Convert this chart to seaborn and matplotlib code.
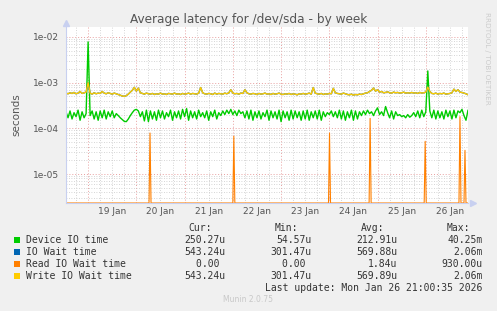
import numpy as np
import pandas as pd
import seaborn as sns
import matplotlib
matplotlib.use("Agg")
import matplotlib.pyplot as plt
from matplotlib.patches import Rectangle
from matplotlib.ticker import MultipleLocator, LogLocator, FuncFormatter, NullFormatter
import matplotlib.transforms as mtransforms

# ---------------------------------------------------------------------------
# data (hours relative to 19 Jan 00:00, values in microseconds)
# ---------------------------------------------------------------------------
hours = list(range(-11, 190))

device_io = [
    230, 170, 240, 160, 220, 180, 250, 150, 230, 170,
    210, 7800, 190, 240, 160, 230, 150, 240, 170, 250,
    160, 230, 180, 240, 170, 210, 190, 170, 155, 142,
    140, 160, 190, 220, 250, 260, 240, 180, 230, 145,
    250, 140, 240, 160, 230, 150, 250, 170, 240, 160,
    220, 180, 250, 150, 230, 170, 240, 160, 260, 180,
    270, 150, 240, 170, 230, 160, 250, 180, 220, 170,
    240, 150, 230, 180, 250, 160, 220, 190, 240, 200,
    250, 210, 260, 200, 240, 190, 250, 210, 230, 170,
    240, 160, 250, 150, 230, 170, 240, 160, 220, 180,
    250, 150, 240, 170, 230, 160, 250, 140, 240, 170,
    230, 150, 250, 160, 240, 170, 230, 150, 240, 160,
    250, 150, 230, 170, 240, 160, 250, 150, 230, 180,
    220, 200, 240, 180, 230, 170, 250, 160, 240, 150,
    230, 170, 250, 150, 240, 160, 230, 190, 240, 200,
    250, 210, 230, 190, 240, 280, 200, 230, 190, 300,
    220, 170, 240, 160, 230, 190, 200, 180, 190, 170,
    200, 175, 190, 220, 180, 240, 170, 250, 180, 230,
    1800, 240, 170, 250, 160, 240, 170, 230, 160, 250,
    180, 240, 160, 250, 170, 240, 220, 260, 190, 150,
    250,
]

write_wait = [
    590, 570, 600, 580, 610, 570, 590, 640, 580, 600,
    620, 1000, 590, 560, 600, 570, 590, 580, 640, 590,
    570, 600, 580, 560, 590, 570, 550, 530, 510, 500,
    520, 560, 620, 680, 790, 650, 760, 600, 580, 560,
    590, 570, 560, 580, 550, 570, 560, 590, 560, 570,
    550, 580, 570, 560, 590, 560, 570, 550, 580, 560,
    570, 590, 560, 580, 570, 560, 590, 780, 600, 570,
    560, 580, 570, 550, 590, 560, 580, 570, 560, 590,
    570, 600, 700, 590, 570, 580, 560, 590, 580, 700,
    600, 570, 560, 580, 570, 550, 580, 560, 570, 590,
    560, 570, 550, 580, 560, 570, 590, 560, 550, 570,
    560, 580, 550, 570, 560, 540, 570, 560, 580, 560,
    570, 590, 560, 780, 590, 570, 560, 580, 550, 570,
    560, 580, 570, 750, 600, 580, 570, 560, 590, 570,
    550, 540, 560, 530, 550, 540, 560, 550, 570, 590,
    600, 640, 680, 760, 650, 700, 620, 640, 600, 610,
    630, 600, 590, 620, 600, 610, 590, 600, 620, 590,
    600, 590, 610, 590, 600, 580, 610, 590, 600, 620,
    800, 640, 580, 570, 590, 560, 580, 570, 590, 560,
    570, 580, 600, 720, 640, 700, 620, 610, 590, 570,
    543,
]

# IO wait is the same as write wait (no reads to speak of)
io_wait = write_wait

read_times = [-11, 30.3, 30.8, 31.3, 72.0, 72.5, 73.0, 119.6, 120.1, 120.6,
              139.8, 140.3, 140.8, 167.2, 167.7, 168.2, 184.5, 185.0, 185.5,
              187.0, 187.5, 188.0, 189]
read_wait = [0, 0, 79, 0, 0, 67, 0, 0, 79, 0,
             0, 165, 0, 0, 52, 0, 0, 180, 0,
             0, 33, 0, 0]

day_labels = ["19 Jan", "20 Jan", "21 Jan", "22 Jan",
              "23 Jan", "24 Jan", "25 Jan", "26 Jan"]

series_names = ["Device IO time", "IO Wait time", "Read IO Wait time", "Write IO Wait time"]
series_colors = ["#00CC00", "#0066B3", "#FF8000", "#FFCC00"]
cur_vals = ["250.27u", "543.24u", "0.00 ", "543.24u"]
min_vals = ["54.57u", "301.47u", "0.00 ", "301.47u"]
avg_vals = ["212.91u", "569.88u", "1.84u", "569.89u"]
max_vals = ["40.25m", "2.06m", "930.00u", "2.06m"]

# ---------------------------------------------------------------------------
# figure
# ---------------------------------------------------------------------------
sns.set_theme(style="white")
plt.rcParams["font.family"] = ["DejaVu Sans"]

W, H = 497, 311
fig = plt.figure(figsize=(W / 100, H / 100), dpi=100, facecolor="#F0F0F0")
ax = fig.add_axes([66 / W, 1 - 203 / H, (468 - 66) / W, (203 - 27) / H])
ax.set_facecolor("white")

ymin, ymax = 2.32e-6, 1.65e-2

df_main = pd.DataFrame({"hour": hours,
                        "device": np.array(device_io) * 1e-6,
                        "iowait": np.array(io_wait) * 1e-6,
                        "write": np.array(write_wait) * 1e-6})
df_read = pd.DataFrame({"hour": read_times,
                        "read": np.maximum(np.array(read_wait) * 1e-6, ymin)})

lw = 1.0
sns.lineplot(data=df_main, x="hour", y="device", color=series_colors[0], lw=lw,
             ax=ax, estimator=None, sort=False)
sns.lineplot(data=df_main, x="hour", y="iowait", color=series_colors[1], lw=lw,
             ax=ax, estimator=None, sort=False)
sns.lineplot(data=df_read, x="hour", y="read", color=series_colors[2], lw=0.8,
             ax=ax, estimator=None, sort=False)
sns.lineplot(data=df_main, x="hour", y="write", color=series_colors[3], lw=lw,
             ax=ax, estimator=None, sort=False)

ax.set_yscale("log")
ax.set_ylim(ymin, ymax)
ax.set_xlim(-11, 189)

# grid
ax.xaxis.set_major_locator(MultipleLocator(24))
ax.xaxis.set_minor_locator(MultipleLocator(6))
ax.yaxis.set_major_locator(LogLocator(base=10, numticks=10))
ax.yaxis.set_minor_locator(LogLocator(base=10, subs=np.arange(2, 10), numticks=20))
ax.xaxis.set_major_formatter(NullFormatter())
ax.xaxis.set_minor_formatter(NullFormatter())
ax.yaxis.set_minor_formatter(NullFormatter())
ax.yaxis.set_major_formatter(FuncFormatter(lambda v, p: f"{v:.0e}"))

ax.grid(which="major", color="#E8A0A0", linestyle=(0, (1, 2)), lw=0.7)
ax.grid(which="minor", color="#C8C8C8", linestyle=(0, (1, 2)), lw=0.6)
ax.set_axisbelow(True)

ax.tick_params(axis="y", which="major", length=0, labelsize=6.5, labelcolor="#555555", pad=5)
ax.tick_params(axis="y", which="minor", length=0)
ax.tick_params(axis="x", which="major", length=2, color="#E08080", direction="out")
ax.tick_params(axis="x", which="minor", length=0)

for s in ["top", "right"]:
    ax.spines[s].set_visible(False)
for s in ["left", "bottom"]:
    ax.spines[s].set_color("#C8D0F0")
    ax.spines[s].set_linewidth(0.8)

# axis arrows
ax.plot([0], [1.02], marker="^", ms=4, color="#C8D0F0", transform=ax.transAxes, clip_on=False)
ax.plot([1.012], [0], marker=">", ms=4, color="#C8D0F0", transform=ax.transAxes, clip_on=False)

ax.set_xlabel("")
ax.set_ylabel("seconds", fontsize=7.5, color="#555555", labelpad=8)

# day labels centered at noon
trans = mtransforms.blended_transform_factory(ax.transData, ax.transAxes)
for i, lab in enumerate(day_labels):
    ax.text(12 + 24 * i, -0.05, lab, transform=trans, ha="center", va="center",
            fontsize=6.5, color="#555555")

fig.text(248.5 / W, 1 - 19 / H, "Average latency for /dev/sda - by week",
         ha="center", va="center", fontsize=8.7, color="#555555")
fig.text(487 / W, 1 - 58 / H, "RRDTOOL / TOBI OETIKER", rotation=270,
         ha="center", va="center", fontsize=5.2, color="#CCCCCC")

# legend block
mono = "DejaVu Sans Mono"
fs = 7
for hx, hdr in zip([212, 298, 384, 470], ["Cur:", "Min:", "Avg:", "Max:"]):
    fig.text(hx / W, 1 - 227.7 / H, hdr, ha="right", va="center",
             family=mono, fontsize=fs, color="#333333")

for i in range(4):
    y = 240 + 12 * i
    fig.add_artist(Rectangle((14 / W, 1 - (y + 3) / H), 6 / W, 6 / H,
                             transform=fig.transFigure, color=series_colors[i], lw=0))
    fig.text(26.3 / W, 1 - y / H, series_names[i], ha="left", va="center",
             family=mono, fontsize=fs, color="#333333")
    for cx, vals in zip([225, 311.7, 397.3, 482.7], [cur_vals, min_vals, avg_vals, max_vals]):
        fig.text(cx / W, 1 - y / H, vals[i], ha="right", va="center",
                 family=mono, fontsize=fs, color="#333333")

fig.text(482.7 / W, 1 - 288 / H, "Last update: Mon Jan 26 21:00:35 2026",
         ha="right", va="center", family=mono, fontsize=fs, color="#333333")
fig.text(248 / W, 1 - 300 / H, "Munin 2.0.75", ha="center", va="center",
         fontsize=5.5, color="#C8C8C8")

fig.savefig("out.png", dpi=100, facecolor=fig.get_facecolor())
